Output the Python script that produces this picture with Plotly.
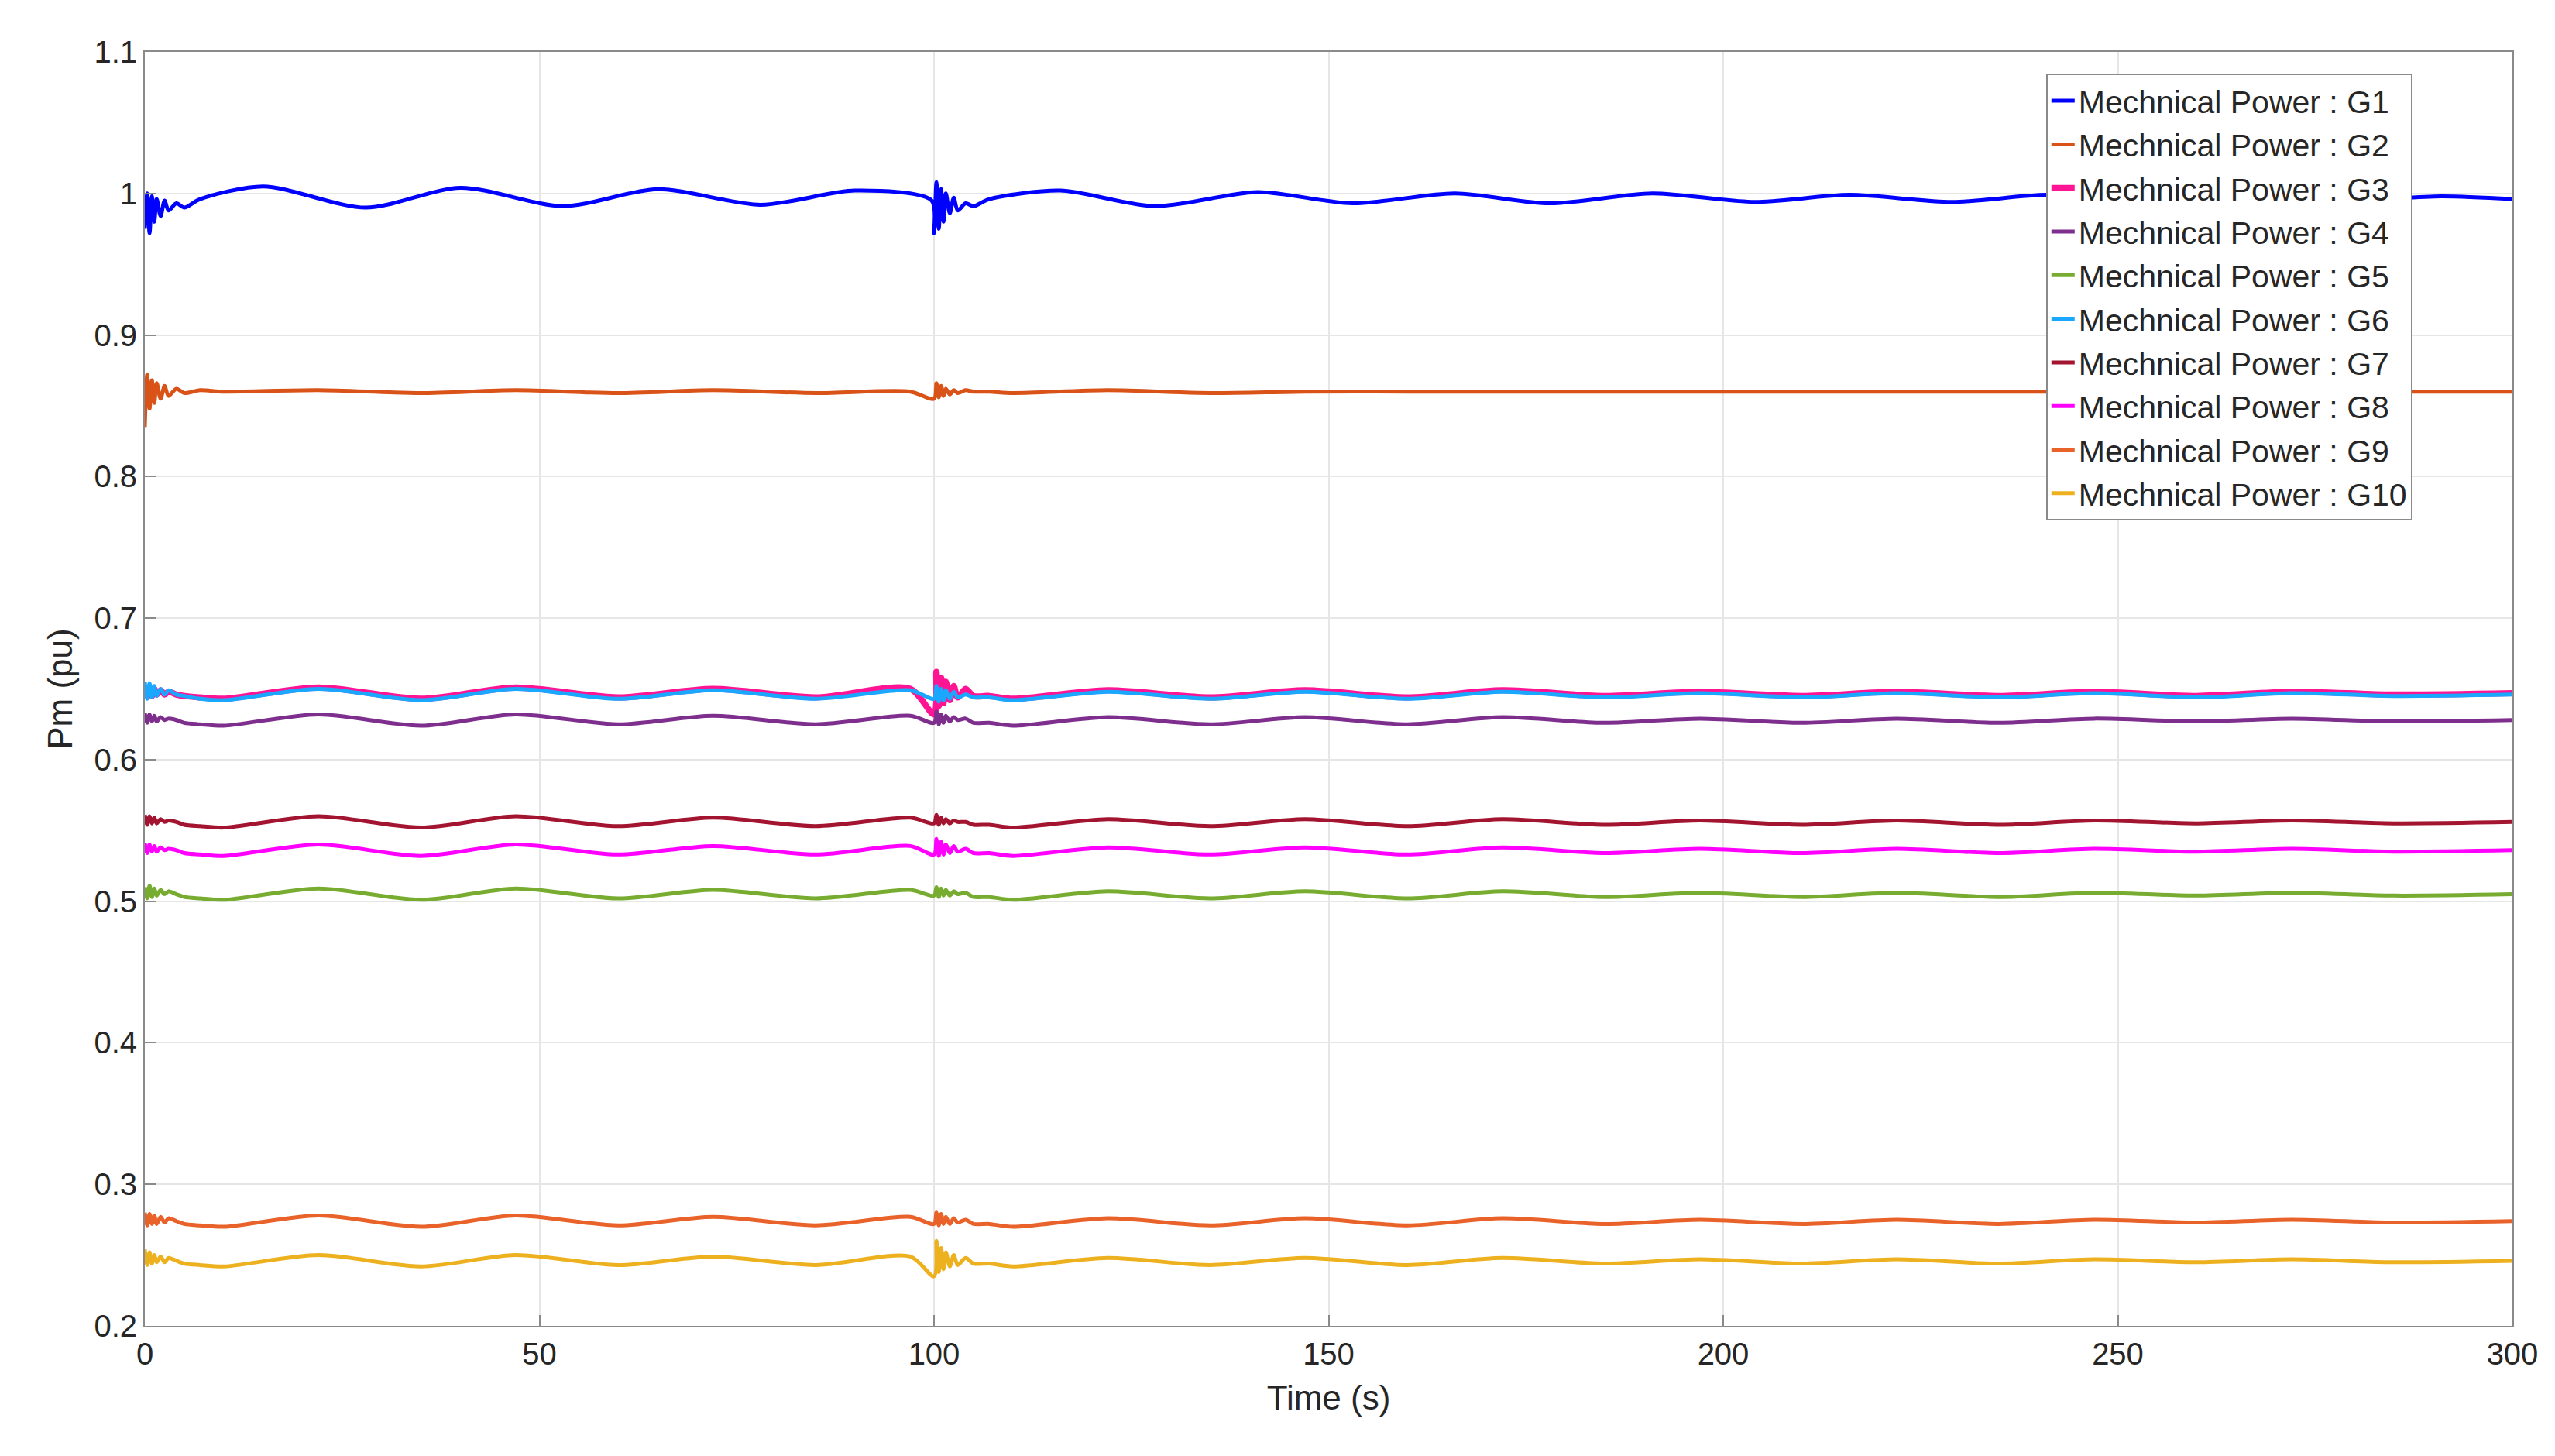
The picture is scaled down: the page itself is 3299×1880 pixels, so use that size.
import plotly.graph_objects as go

# time samples (s)
t_g1 = [0, 0.3, 0.6, 0.9, 1.2, 1.5, 2, 2.5, 3, 4, 5, 7,
        15, 28, 40, 53, 65, 78, 90, 99.7,
        100, 100.3, 100.6, 100.9, 101.2, 101.5, 102, 102.5, 103, 104, 105, 107,
        116, 128, 141, 153, 166, 178, 191, 204, 216, 229, 241, 254, 266, 279, 291,
        300]
t_common = [0, 0.3, 0.6, 0.9, 1.2, 1.5, 2, 2.5, 3, 4, 5, 7,
            10, 22, 35, 47, 60, 72, 85, 97,
            100, 100.3, 100.6, 100.9, 101.2, 101.5, 102, 102.5, 103, 104, 105, 107,
            110, 122, 135, 147, 160, 172, 185, 197, 210, 222, 235, 247, 260, 272, 285,
            300]

g1 = [0.975, 1.0, 0.972, 0.998, 0.98, 0.996, 0.984, 0.995, 0.988, 0.993, 0.99, 0.996,
      1.005, 0.990, 1.004, 0.991, 1.003, 0.992, 1.002, 0.995,
      0.972, 1.008, 0.975, 1.003, 0.98, 1.0, 0.986, 0.997, 0.988, 0.993, 0.991, 0.996,
      1.002, 0.991, 1.001, 0.993, 1.000, 0.993, 1.000, 0.994, 0.999, 0.994, 0.999, 0.995, 0.999, 0.995, 0.998,
      0.996]
g2 = [0.835, 0.872, 0.848, 0.868, 0.852, 0.866, 0.855, 0.864, 0.857, 0.862, 0.859, 0.861,
      0.860, 0.861, 0.859, 0.861, 0.859, 0.861, 0.859, 0.860,
      0.855, 0.866, 0.856, 0.864, 0.857, 0.862, 0.858, 0.861, 0.859, 0.861, 0.860, 0.860,
      0.859, 0.861, 0.859, 0.860, 0.860, 0.860, 0.860, 0.860, 0.860, 0.860, 0.860, 0.860, 0.860, 0.860, 0.860,
      0.860]
g3 = [0.650, 0.646, 0.651, 0.645, 0.650, 0.646, 0.649, 0.646, 0.648, 0.646, 0.645, 0.644,
      0.643, 0.651, 0.643, 0.651, 0.644, 0.650, 0.644, 0.650,
      0.632, 0.662, 0.638, 0.658, 0.640, 0.655, 0.642, 0.652, 0.644, 0.650, 0.645, 0.645,
      0.643, 0.649, 0.644, 0.649, 0.644, 0.649, 0.645, 0.648, 0.645, 0.648, 0.645, 0.648, 0.645, 0.648, 0.646,
      0.647]
g4 = [0.633, 0.626, 0.632, 0.627, 0.631, 0.627, 0.630, 0.628, 0.629, 0.628, 0.626, 0.625,
      0.624, 0.632, 0.624, 0.632, 0.625, 0.631, 0.625, 0.631,
      0.626, 0.634, 0.625, 0.632, 0.626, 0.631, 0.627, 0.630, 0.628, 0.629, 0.626, 0.626,
      0.624, 0.630, 0.625, 0.630, 0.625, 0.630, 0.626, 0.629, 0.626, 0.629, 0.626, 0.629, 0.627, 0.629, 0.627,
      0.628]
g5 = [0.510, 0.502, 0.511, 0.503, 0.509, 0.504, 0.508, 0.505, 0.507, 0.505, 0.503, 0.502,
      0.501, 0.509, 0.501, 0.509, 0.502, 0.508, 0.502, 0.508,
      0.504, 0.510, 0.503, 0.509, 0.504, 0.508, 0.504, 0.507, 0.505, 0.506, 0.503, 0.503,
      0.501, 0.507, 0.502, 0.507, 0.502, 0.507, 0.503, 0.506, 0.503, 0.506, 0.503, 0.506, 0.504, 0.506, 0.504,
      0.505]
g6 = [0.655, 0.643, 0.654, 0.644, 0.652, 0.645, 0.650, 0.646, 0.649, 0.646, 0.645, 0.643,
      0.642, 0.650, 0.642, 0.650, 0.643, 0.649, 0.643, 0.649,
      0.643, 0.652, 0.641, 0.650, 0.642, 0.649, 0.643, 0.648, 0.644, 0.646, 0.644, 0.644,
      0.642, 0.648, 0.643, 0.648, 0.643, 0.648, 0.644, 0.647, 0.644, 0.647, 0.644, 0.647, 0.644, 0.647, 0.645,
      0.646]
g7 = [0.561, 0.554, 0.560, 0.555, 0.559, 0.555, 0.558, 0.556, 0.557, 0.556, 0.554, 0.553,
      0.552, 0.560, 0.552, 0.560, 0.553, 0.559, 0.553, 0.559,
      0.555, 0.561, 0.554, 0.559, 0.555, 0.558, 0.555, 0.557, 0.556, 0.556, 0.554, 0.554,
      0.552, 0.558, 0.553, 0.558, 0.553, 0.558, 0.554, 0.557, 0.554, 0.557, 0.554, 0.557, 0.555, 0.557, 0.555,
      0.556]
g8 = [0.541, 0.534, 0.540, 0.535, 0.539, 0.535, 0.538, 0.536, 0.537, 0.536, 0.534, 0.533,
      0.532, 0.540, 0.532, 0.540, 0.533, 0.539, 0.533, 0.539,
      0.533, 0.544, 0.532, 0.542, 0.533, 0.540, 0.534, 0.539, 0.535, 0.537, 0.534, 0.534,
      0.532, 0.538, 0.533, 0.538, 0.533, 0.538, 0.534, 0.537, 0.534, 0.537, 0.534, 0.537, 0.535, 0.537, 0.535,
      0.536]
g9 = [0.280, 0.271, 0.279, 0.272, 0.278, 0.272, 0.277, 0.273, 0.276, 0.274, 0.272, 0.271,
      0.270, 0.278, 0.270, 0.278, 0.271, 0.277, 0.271, 0.277,
      0.272, 0.280, 0.271, 0.279, 0.272, 0.277, 0.272, 0.276, 0.273, 0.275, 0.272, 0.272,
      0.270, 0.276, 0.271, 0.276, 0.271, 0.276, 0.272, 0.275, 0.272, 0.275, 0.272, 0.275, 0.273, 0.275, 0.273,
      0.274]
g10 = [0.254, 0.243, 0.252, 0.244, 0.250, 0.245, 0.249, 0.245, 0.248, 0.246, 0.244, 0.243,
       0.242, 0.250, 0.242, 0.250, 0.243, 0.249, 0.243, 0.249,
       0.235, 0.260, 0.238, 0.255, 0.240, 0.252, 0.242, 0.250, 0.243, 0.248, 0.244, 0.244,
       0.242, 0.248, 0.243, 0.248, 0.243, 0.248, 0.244, 0.247, 0.244, 0.247, 0.244, 0.247, 0.245, 0.247, 0.245,
       0.246]

names = ["G1", "G2", "G3", "G4", "G5", "G6", "G7", "G8", "G9", "G10"]
series = [g1, g2, g3, g4, g5, g6, g7, g8, g9, g10]
colors = ["#0000FF", "#D95319", "#FF1493", "#7E2F8E", "#77AC30",
          "#1AA7FF", "#A2142F", "#FF00FF", "#E8622A", "#EDB120"]

fig = go.Figure()
for name, vals, col in zip(names, series, colors):
    t = t_g1 if name == "G1" else t_common
    fig.add_trace(go.Scatter(
        x=t, y=vals, mode="lines", name="Mechnical Power : " + name,
        line=dict(color=col, width=8 if name == "G3" else 5, shape="spline", smoothing=0.8),
    ))

axis_style = dict(
    showline=True, linecolor="#8a8a8a", linewidth=2, mirror=True,
    showgrid=True, gridcolor="#e6e6e6", gridwidth=2,
    ticks="inside", ticklen=14, tickcolor="#8a8a8a", tickwidth=2,
    tickfont=dict(size=40, color="#262626"), zeroline=False,
)

fig.update_layout(
    width=3299, height=1880,
    paper_bgcolor="white", plot_bgcolor="white",
    font=dict(family="Liberation Sans, Arial, sans-serif", color="#262626"),
    margin=dict(l=179, r=63, t=59, b=176),
    xaxis=dict(range=[0, 300], dtick=50, title=dict(text="Time (s)", font=dict(size=44), standoff=20), **axis_style),
    yaxis=dict(range=[0.2, 1.1], dtick=0.1, title=dict(text="Pm (pu)", font=dict(size=44), standoff=14), **axis_style),
    legend=dict(
        x=0.803, y=0.983, xanchor="left", yanchor="top",
        bgcolor="white", bordercolor="#8a8a8a", borderwidth=2,
        font=dict(size=41, color="#262626"), tracegroupgap=0,
    ),
    showlegend=True,
)

fig.write_html("out.html")
